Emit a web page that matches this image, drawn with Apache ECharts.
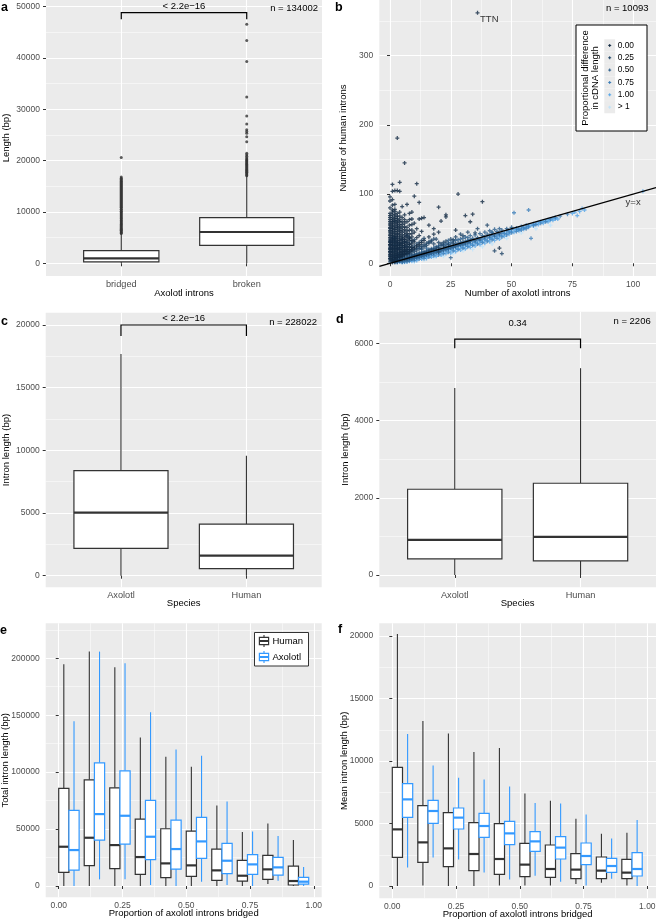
<!DOCTYPE html>
<html><head><meta charset="utf-8">
<script src="https://cdn.jsdelivr.net/npm/echarts@6/dist/echarts.min.js"></script>
<style>html,body{margin:0;padding:0;background:#fff}#c{width:656px;height:919px}</style>
</head><body><div id="c"></div>
<script>
// ================= DATA =================
// Panel a
const aCategories = ['bridged', 'broken'];
const aBoxes = [[0, 260, 970, 2470, 5780], [0, 3510, 6100, 8900, 17000]]; // low, q1, median, q3, high
const aBridgedOutliers = [5810, 5950, 6120, 6300, 6450, 6640, 6800, 7000, 7180, 7350, 7560, 7720, 7900, 8100, 8290, 8450, 8660, 8820, 9030, 9200, 9410, 9600, 9780, 9990, 10150, 10380, 10550, 10760, 10930, 11140, 11320, 11500, 11720, 11890, 12100, 12280, 12470, 12680, 12860, 13050, 13260, 13440, 13650, 13830, 14020, 14230, 14410, 14600, 14820, 15000, 15190, 15400, 15580, 15770, 15980, 16150, 16380, 16560, 16840, 20620];
const aBrokenOutliers = [17050, 17230, 17400, 17580, 17760, 17950, 18120, 18300, 18490, 18670, 18850, 19040, 19230, 19400, 19590, 19780, 19960, 20150, 20330, 20560, 20880, 21150, 21420, 23700, 24650, 25350, 25700, 26000, 27150, 28700, 32400, 39300, 43400, 46600];
const aBracket = [1, 2, 48830, 47530, 50000]; // from, to, y, tick end, label y
const aPLabel = '< 2.2e\u221216';
const aN = 'n = 134002';
const aYTicks = [0, 10000, 20000, 30000, 40000, 50000];
const aYMinor = [5000, 15000, 25000, 35000, 45000];

// Panel b  (x = axolotl introns, y = human introns), grouped by proportional difference
const bTTN = [36, 362];
const b000 = [[0,5],[0,10],[0,15],[0,20],[0,25],[0,30],[0,35],[0,40],[0,45],[0,50],[0,55],[0,60],[0,66],[0,72],[0,80],[0,90],[0,96],
 [1,3],[1,8],[1,13],[1,18],[1,23],[1,28],[1,33],[1,38],[1,43],[1,48],[1,53],[1,58],[1,63],[1,70],[1,77],[1,84],[1,92],[1,104],[1,114],
 [2,4],[2,9],[2,14],[2,19],[2,24],[2,29],[2,34],[2,39],[2,44],[2,49],[2,54],[2,60],[2,65],[2,71],[2,78],[2,85],[2,105],
 [3,6],[3,11],[3,16],[3,21],[3,26],[3,31],[3,36],[3,41],[3,46],[3,52],[3,57],[3,62],[3,68],[3,105],[3,181],
 [4,8],[4,13],[4,18],[4,23],[4,28],[4,33],[4,38],[4,44],[4,50],[4,56],[4,63],[4,74],[4,104],[4,117],
 [5,10],[5,15],[5,20],[5,26],[5,32],[5,38],[5,45],[5,52],[5,60],[5,82],
 [6,12],[6,17],[6,22],[6,28],[6,34],[6,41],[6,49],[6,58],[6,70],[6,145],
 [7,14],[7,20],[7,27],[7,35],[7,43],[7,52],[7,85],[8,16],[8,24],[8,33],[8,42],[8,55],[8,72],
 [9,19],[9,28],[9,38],[9,48],[9,64],[9,74],[10,22],[10,31],[10,45],[10,58],[10,97],
 [11,25],[11,37],[11,50],[11,115],[12,27],[12,40],[12,64],[12,88],[13,30],[13,46],[13,65],
 [14,33],[14,66],[16,38],[16,55],[18,42],[18,50],[20,45],[20,81],[21,61],[23,67],[23,70],[27,48],[28,100],[31,69],[33,60],[34,71],[38,89],[45,22],
 [0,7],[0,12],[0,17],[0,22],[0,27],[0,32],[0,37],[0,42],[0,47],[0,52],[0,57],[0,63],[0,69],
 [1,5],[1,10],[1,15],[1,20],[1,25],[1,30],[1,35],[1,40],[1,45],[1,50],[1,55],[1,60],[1,66],[1,74],
 [2,6],[2,11],[2,16],[2,21],[2,26],[2,31],[2,36],[2,41],[2,46],[2,51],[2,57],[2,62],[2,68],[2,75],
 [3,8],[3,13],[3,18],[3,23],[3,28],[3,33],[3,38],[3,43],[3,49],[3,54],[3,59],[3,65],[3,72],
 [4,10],[4,15],[4,20],[4,25],[4,30],[4,35],[4,41],[4,47],[4,53],[4,60],[4,68],
 [5,12],[5,17],[5,23],[5,29],[5,35],[5,41],[5,48],[5,56],[5,66],
 [6,14],[6,19],[6,25],[6,31],[6,37],[6,45],[6,53],[6,63],[7,17],[7,23],[7,31],[7,39],[7,47],[7,60],
 [8,20],[8,28],[8,37],[8,48],[8,63],[9,23],[9,33],[9,43],[9,56]];
const b025 = [[0,2],[0,7],[0,12],[0,17],[0,22],[0,27],[0,32],[1,1],[1,6],[1,11],[1,16],[1,21],[1,26],[1,31],[1,36],[2,2],[2,7],[2,12],[2,17],[2,22],[2,27],[2,32],[2,37],
 [3,3],[3,9],[3,14],[3,20],[3,25],[3,30],[4,4],[4,10],[4,15],[4,21],[4,27],[5,5],[5,11],[5,17],[5,23],[5,29],[5,35],[6,6],[6,13],[6,19],[6,25],[6,31],
 [7,7],[7,12],[7,18],[7,24],[7,30],[7,40],[8,8],[8,14],[8,20],[8,27],[8,36],[9,10],[9,16],[9,23],[9,31],[10,11],[10,17],[10,25],[10,34],
 [11,12],[11,19],[11,28],[12,13],[12,21],[12,30],[13,14],[13,22],[13,33],[14,15],[14,24],[14,36],[15,16],[15,26],[16,18],[16,29],[17,19],[17,31],
 [18,20],[18,28],[19,22],[19,35],[20,16],[20,23],[22,25],[22,30],[24,27],[26,29],[26,34],[30,40],[35,44],[43,18],[46,14],
 [1,4],[2,9],[3,11],[4,12],[5,13],[6,15],[7,15],[8,17],[9,19],[10,20],[11,22],[12,24],[13,25],[14,27],[15,29],[16,31],[17,33],[18,35],
 [20,30],[21,28],[23,32],[25,35],[27,38],[29,42],[32,45],[36,50],[40,55]];
const b050 = [[2,1],[2,5],[3,2],[3,8],[4,3],[4,6],[5,2],[5,8],[6,4],[6,9],[7,3],[7,9],[8,5],[8,10],[8,12],[9,6],[9,12],[10,7],[10,13],[11,8],[11,14],
 [12,9],[12,15],[13,10],[13,16],[13,20],[14,11],[14,17],[15,12],[15,18],[15,22],[16,13],[16,20],[17,14],[17,21],[18,15],[18,22],[19,16],[19,24],
 [20,17],[20,25],[21,18],[21,26],[22,19],[22,27],[23,20],[23,28],[24,21],[24,29],[24,33],[25,8],[25,22],[25,30],[26,23],[26,32],[27,24],[27,33],
 [28,26],[28,34],[29,27],[29,35],[30,28],[30,36],[31,29],[31,38],[32,30],[32,37],[33,32],[33,40],[35,33],[35,41],[37,35],[37,43],[39,38],[39,45],
 [41,40],[41,47],[43,41],[43,49],[45,43],[45,50],
 [1,3],[2,3],[3,5],[4,5],[5,6],[6,7],[7,6],[8,8],[9,9],[10,10],[11,10],[12,12],[13,12],[14,14],[15,14],[16,16],[17,16],[18,18],[19,19],[20,20],
 [21,21],[22,22],[23,24],[24,24],[25,26],[26,26],[27,28],[28,29],[29,30],[30,31],[31,32],[32,33],[33,34],[34,36],[36,37],[38,40],[40,42],[42,45],
 [44,46],[46,48],[48,50],[50,52]];
const b075 = [[6,2],[8,3],[8,7],[10,4],[10,9],[12,6],[12,11],[14,7],[14,12],[16,9],[16,14],[18,11],[18,16],[20,12],[20,18],[22,14],[22,20],[24,16],[24,22],
 [26,18],[26,24],[28,20],[28,26],[30,22],[30,28],[32,24],[32,30],[34,26],[34,32],[36,28],[36,34],[38,30],[38,36],[40,32],[40,38],[42,34],[42,40],[42,44],
 [44,36],[44,42],[46,38],[46,44],[48,41],[48,47],[50,44],[50,49],[51,73],[52,46],[52,51],[54,48],[54,53],[56,50],[56,55],[57,77],[58,36],[60,56],
 [3,1],[5,3],[7,5],[9,7],[11,9],[13,11],[15,13],[17,15],[19,17],[21,19],[23,21],[25,23],[27,25],[29,26],[31,27],[33,29],[35,31],[37,33],[39,35],
 [41,37],[43,39],[45,41],[47,43],[49,45],[53,49],[55,51],[57,53],[59,55],[62,58],[64,60],[66,64],[68,66],[70,68],[73,71]];
const b100 = [[5,1],[7,2],[9,3],[9,5],[11,4],[11,7],[13,6],[13,9],[15,7],[15,10],[17,9],[17,12],[19,10],[19,14],[21,12],[21,16],[23,14],[23,18],
 [25,15],[25,20],[27,17],[27,22],[29,19],[29,24],[31,21],[31,26],[33,23],[33,28],[35,25],[35,30],[37,27],[37,32],[39,29],[39,34],[41,31],[41,36],
 [43,33],[43,38],[45,35],[45,40],[47,39],[47,44],[49,42],[49,47],[51,45],[51,49],[53,47],[53,50],[55,49],[55,52],[57,52],[57,55],[59,54],[59,57],
 [61,56],[61,59],[63,58],[63,61],[65,60],[65,63],[67,62],[67,65],[69,64],[76,74],[77,69],[78,75],[79,79],[80,77],[104,104],
 [4,2],[6,3],[8,4],[10,6],[12,8],[14,9],[16,11],[18,13],[20,14],[22,16],[24,18],[26,19],[28,21],[30,23],[32,25],[34,27],[36,29],[38,31],[40,33],
 [42,36],[44,38],[46,40],[48,43],[50,46],[52,48],[54,50],[56,52],[58,55],[60,57],[62,60],[64,61],[66,62],[68,64],[75,72]];
const bGt1 = [[6,1],[10,2],[14,5],[18,8],[22,10],[26,14],[30,18],[34,20],[38,24],[42,28],[48,36],[54,44],[60,50],[66,55],[64,62]];
const bLevels = ['0.00', '0.25', '0.50', '0.75', '1.00', '> 1'];
const bYxLabelPos = [100, 88];
const bN = 'n = 10093';
const bXTicks = [0, 25, 50, 75, 100];
const bXMinor = [12.5, 37.5, 62.5, 87.5];
const bYTicks = [0, 100, 200, 300];
const bYMinor = [50, 150, 250, 350];

// Panel c
const cCategories = ['Axolotl', 'Human'];
const cBoxes = [[0, 2180, 5030, 8380, 17690], [0, 560, 1600, 4120, 9570]];
const cBracket = [1, 2, 20000, 19120, 20540];
const cPLabel = '< 2.2e\u221216';
const cN = 'n = 228022';
const cYTicks = [0, 5000, 10000, 15000, 20000];
const cYMinor = [2500, 7500, 12500, 17500];

// Panel d
const dCategories = ['Axolotl', 'Human'];
const dBoxes = [[0, 415, 907, 2220, 4840], [0, 363, 985, 2376, 5356]];
const dBracket = [1, 2, 6108, 5875, 6510];
const dPLabel = '0.34';
const dN = 'n = 2206';
const dYTicks = [0, 2000, 4000, 6000];
const dYMinor = [1000, 3000, 5000];

// Panels e, f
const efBins = [0.04, 0.14, 0.24, 0.34, 0.44, 0.54, 0.64, 0.74, 0.84, 0.94];
const efXTicks = [0, 0.25, 0.5, 0.75, 1];
const efXMinor = [0.125, 0.375, 0.625, 0.875];
const eHuman = [[0,11990,34500,85670,194740],[0,17840,42400,93270,205850],[0,15200,35960,86260,192100],[0,10230,25440,58770,130400],
 [0,7310,19880,50290,113450],[0,8480,18130,48250,104680],[0,4970,13740,32460,70760],[0,4390,9060,22510,47370],[1750,5850,14620,26900,54970],[0,880,4390,17540,40350]];
const eAxolotl = [[0,14040,31580,66370,144740],[5850,40350,63160,108190,205850],[5850,36840,61700,101170,195600],[880,23100,43270,75150,152600],
 [0,14910,32460,57890,119880],[3800,24270,39180,60230,114330],[880,10820,22220,37430,74270],[0,10230,19000,27490,47950],[4680,9650,16370,25150,43860],[0,1750,3800,7600,16670]];
const eYTicks = [0, 50000, 100000, 150000, 200000];
const eYMinor = [25000, 75000, 125000, 175000, 225000];
const fHuman = [[0,2290,4530,9490,20160],[50,1890,3490,6430,13200],[0,1550,3010,5870,12210],[0,1230,2560,5070,10720],[50,930,2160,4990,11040],
 [50,750,1710,3410,7410],[50,690,1360,3280,6830],[160,590,1310,2590,5390],[270,590,1230,2320,4190],[50,590,1070,2130,4270]];
const fAxolotl = [[1490,5490,6930,8190,12160],[2290,5010,6000,6850,9650],[2130,4560,5470,6240,8670],[1090,3890,4800,5810,8530],[530,3310,4210,5170,7970],
 [830,2770,3570,4350,6640],[350,2160,3070,3950,6610],[50,1710,2400,3440,5730],[590,1090,1600,2210,3810],[0,800,1360,2670,5280]];
const fYTicks = [0, 5000, 10000, 15000, 20000];
const fYMinor = [2500, 7500, 12500, 17500];
const efSeriesNames = ['Human', 'Axolotl'];

// ================= STYLE =================
const FONT = '"Liberation Sans", Arial, sans-serif';
const BG = '#EBEBEB';
const DARK = '#333333';
const BLUE = '#3399FF';
const bColors = ['#132B43', '#1E4466', '#2C5F8D', '#3D7FBA', '#56A6E8', '#BFE3FB'];
const PLUS = 'path://M1.7,0H3.3V1.7H5V3.3H3.3V5H1.7V3.3H0V1.7H1.7Z';

const grids = [
  {left: 46, top: 0, width: 276, height: 276},
  {left: 379.3, top: 0, width: 276.7, height: 276},
  {left: 45.7, top: 312.7, width: 276, height: 274.6},
  {left: 379.3, top: 311.7, width: 276.7, height: 275.6},
  {left: 45.7, top: 623.3, width: 276, height: 274},
  {left: 379.3, top: 623.3, width: 276.7, height: 275}
].map(g => Object.assign({show: true, backgroundColor: BG, borderWidth: 0, containLabel: false, outerBoundsMode: 'none'}, g));

const xAxes = [], yAxes = [];
function major(list, dim, gi, min, max, ticks, fmt, name, nameGap, labelSize) {
  list.push({
    type: 'value', gridIndex: gi, min, max, position: dim === 'x' ? 'bottom' : 'left',
    axisLine: {show: false},
    axisTick: {show: true, customValues: ticks, length: 3, lineStyle: {color: DARK, width: 1}},
    axisLabel: {show: true, customValues: ticks, formatter: fmt, color: '#4D4D4D', fontSize: labelSize, fontFamily: FONT, margin: dim === 'x' ? 4 : 6, hideOverlap: false},
    splitLine: {show: true, lineStyle: {color: '#FFFFFF', width: 1.1}},
    name, nameLocation: 'middle', nameGap, nameMoveOverlap: false,
    nameTextStyle: {color: '#000', fontSize: 9.5, fontFamily: FONT}
  });
  return list.length - 1;
}
function minor(list, dim, gi, min, max, ticks) {
  list.push({
    type: 'value', gridIndex: gi, min, max, position: dim === 'x' ? 'top' : 'right',
    axisLine: {show: false}, axisTick: {show: false, customValues: ticks},
    axisLabel: {show: false, customValues: ticks},
    splitLine: {show: true, lineStyle: {color: '#FFFFFF', width: 0.5}}
  });
  return list.length - 1;
}
const num = v => String(v);

// panel a axes
const axA = major(xAxes, 'x', 0, 0.4, 2.6, [1, 2], v => aCategories[Math.round(v) - 1], 'Axolotl introns', 12, 9.2);
const ayA = major(yAxes, 'y', 0, -2474, 51305, aYTicks, num, 'Length (bp)', 35, 8.5);
minor(yAxes, 'y', 0, -2474, 51305, aYMinor);
// panel b
const axB = major(xAxes, 'x', 1, -4.4, 109.4, bXTicks, num, 'Number of axolotl introns', 12, 8.5);
minor(xAxes, 'x', 1, -4.4, 109.4, bXMinor);
const ayB = major(yAxes, 'y', 1, -18.4, 380.5, bYTicks, num, 'Number of human introns', 31, 8.5);
minor(yAxes, 'y', 1, -18.4, 380.5, bYMinor);
// panel c
const axC = major(xAxes, 'x', 2, 0.4, 2.6, [1, 2], v => cCategories[Math.round(v) - 1], 'Species', 11, 9.2);
const ayC = major(yAxes, 'y', 2, -925, 20981, cYTicks, num, 'Intron length (bp)', 34, 8.5);
minor(yAxes, 'y', 2, -925, 20981, cYMinor);
// panel d
const axD = major(xAxes, 'x', 3, 0.4, 2.6, [1, 2], v => dCategories[Math.round(v) - 1], 'Species', 11, 9.2);
const ayD = major(yAxes, 'y', 3, -319, 6819, dYTicks, num, 'Intron length (bp)', 29, 8.5);
minor(yAxes, 'y', 3, -319, 6819, dYMinor);
// panel e
const axE = major(xAxes, 'x', 4, -0.051, 1.031, efXTicks, v => v.toFixed(2), 'Proportion of axolotl introns bridged', 11.5, 8.5);
minor(xAxes, 'x', 4, -0.051, 1.031, efXMinor);
const ayE = major(yAxes, 'y', 4, -9900, 230700, eYTicks, num, 'Total intron length (bp)', 35, 8.5);
minor(yAxes, 'y', 4, -9900, 230700, eYMinor);
// panel f
const axF = major(xAxes, 'x', 5, -0.051, 1.034, efXTicks, v => v.toFixed(2), 'Proportion of axolotl introns bridged', 11.5, 8.5);
minor(xAxes, 'x', 5, -0.051, 1.034, efXMinor);
const ayF = major(yAxes, 'y', 5, -984, 21016, fYTicks, num, 'Mean intron length (bp)', 30, 8.5);
minor(yAxes, 'y', 5, -984, 21016, fYMinor);

// ---------- series builders ----------
function boxSeries(xi, yi, boxes, positions, widths, offset, color) {
  return {
    type: 'custom', xAxisIndex: xi, yAxisIndex: yi, z: 3, silent: true,
    data: boxes.map((b, i) => [positions[i]].concat(b)),
    encode: {x: 0, y: [1, 2, 3, 4, 5]},
    renderItem: (params, api) => {
      const x = api.value(0) + offset;
      const w = api.size([widths[params.dataIndex], 0])[0];
      const lo = api.coord([x, api.value(1)]);
      const q1 = api.coord([x, api.value(2)]);
      const md = api.coord([x, api.value(3)]);
      const q3 = api.coord([x, api.value(4)]);
      const hi = api.coord([x, api.value(5)]);
      const cx = lo[0];
      return {type: 'group', children: [
        {type: 'line', shape: {x1: cx, y1: lo[1], x2: cx, y2: q1[1]}, style: {stroke: color, lineWidth: 1.1}},
        {type: 'line', shape: {x1: cx, y1: q3[1], x2: cx, y2: hi[1]}, style: {stroke: color, lineWidth: 1.1}},
        {type: 'rect', shape: {x: cx - w / 2, y: q3[1], width: w, height: q1[1] - q3[1]}, style: {fill: '#FFFFFF', stroke: color, lineWidth: 1.2}},
        {type: 'line', shape: {x1: cx - w / 2, y1: md[1], x2: cx + w / 2, y2: md[1]}, style: {stroke: color, lineWidth: 2.2}}
      ]};
    }
  };
}
function bracketSeries(xi, yi, br, label) {
  return {
    type: 'custom', xAxisIndex: xi, yAxisIndex: yi, z: 4, silent: true, data: [br],
    encode: {x: [0, 1], y: [2, 3, 4]},
    renderItem: (params, api) => {
      const x1 = api.value(0), x2 = api.value(1), y = api.value(2), yt = api.value(3);
      const p = [api.coord([x1, yt]), api.coord([x1, y]), api.coord([x2, y]), api.coord([x2, yt])];
      const t = api.coord([(x1 + x2) / 2, api.value(4)]);
      return {type: 'group', children: [
        {type: 'polyline', shape: {points: p}, style: {stroke: '#000', fill: null, lineWidth: 1.2}},
        {type: 'text', x: t[0], y: t[1], style: {text: label, fill: '#000', fontSize: 9.5, fontFamily: FONT,
          align: 'center', verticalAlign: 'middle', textAlign: 'center', textVerticalAlign: 'middle'}}
      ]};
    }
  };
}
function dots(xi, yi, pos, vals) {
  return {type: 'scatter', xAxisIndex: xi, yAxisIndex: yi, z: 2, silent: true, symbol: 'circle', symbolSize: 3,
    itemStyle: {color: DARK}, data: vals.map(v => [pos, v])};
}
function plusSeries(data, color) {
  return {type: 'scatter', xAxisIndex: axB, yAxisIndex: ayB, z: 2, silent: true, symbol: PLUS, symbolSize: 4,
    large: false, itemStyle: {color}, data};
}

const series = [
  boxSeries(axA, ayA, aBoxes, [1, 2], [0.6, 0.75], 0, DARK),
  dots(axA, ayA, 1, aBridgedOutliers),
  dots(axA, ayA, 2, aBrokenOutliers),
  bracketSeries(axA, ayA, aBracket, aPLabel),

  plusSeries(bGt1, bColors[5]),
  plusSeries(b100, bColors[4]),
  plusSeries(b075, bColors[3]),
  plusSeries(b050, bColors[2]),
  plusSeries(b025, bColors[1]),
  plusSeries(b000, bColors[0]),
  {type: 'scatter', xAxisIndex: axB, yAxisIndex: ayB, z: 3, silent: true, symbol: PLUS, symbolSize: 4,
   itemStyle: {color: bColors[0]}, data: [bTTN],
   label: {show: true, formatter: 'TTN', position: 'right', distance: 0.5, offset: [0, 7], color: '#000', fontSize: 9.5, fontFamily: FONT}},
  {type: 'line', xAxisIndex: axB, yAxisIndex: ayB, z: 4, silent: true, symbol: 'none',
   lineStyle: {color: '#000', width: 1.4}, data: [[-4.4, -4.4], [109.4, 109.4]]},
  {type: 'scatter', xAxisIndex: axB, yAxisIndex: ayB, z: 4, silent: true, symbolSize: 0, data: [bYxLabelPos],
   label: {show: true, formatter: 'y=x', position: 'inside', color: '#000', fontSize: 9.5, fontFamily: FONT}},

  boxSeries(axC, ayC, cBoxes, [1, 2], [0.75, 0.75], 0, DARK),
  bracketSeries(axC, ayC, cBracket, cPLabel),
  boxSeries(axD, ayD, dBoxes, [1, 2], [0.75, 0.75], 0, DARK),
  bracketSeries(axD, ayD, dBracket, dPLabel),

  boxSeries(axE, ayE, eHuman, efBins, efBins.map(() => 0.04), -0.02, DARK),
  boxSeries(axE, ayE, eAxolotl, efBins, efBins.map(() => 0.04), 0.02, BLUE),
  boxSeries(axF, ayF, fHuman, efBins, efBins.map(() => 0.04), -0.02, DARK),
  boxSeries(axF, ayF, fAxolotl, efBins, efBins.map(() => 0.04), 0.02, BLUE)
];

// ---------- graphics: panel letters, n labels, legends ----------
function txt(x, y, s, o) {
  o = o || {};
  return {type: 'text', x, y, silent: true, rotation: o.rot || 0, z: 100,
    style: {text: s, fill: o.color || '#000', fontSize: o.size || 9.5, fontFamily: FONT, fontWeight: o.weight || 'normal',
      align: o.align || 'left', textAlign: o.align || 'left', verticalAlign: 'middle', textVerticalAlign: 'middle'}};
}
function rect(x, y, w, h, style, z) {
  return {type: 'rect', z: z || 100, silent: true, shape: {x, y, width: w, height: h}, style};
}
const G = [];
[['a', 1, 8], ['b', 335, 8], ['c', 1, 322], ['d', 336, 320], ['e', 0, 631], ['f', 338, 630]].forEach(p =>
  G.push(txt(p[1], p[2], p[0], {size: 12.5, weight: 'bold'})));
G.push(txt(318, 8.3, aN, {align: 'right'}));
G.push(txt(648.5, 8.3, bN, {align: 'right'}));
G.push(txt(317, 322.7, cN, {align: 'right'}));
G.push(txt(650.7, 321.7, dN, {align: 'right'}));
// legend b
G.push(rect(576, 25, 71, 106, {fill: '#FFFFFF', stroke: '#000', lineWidth: 1}, 99));
G.push(txt(585.3, 78, 'Proportional difference', {rot: Math.PI / 2, align: 'center'}));
G.push(txt(595.8, 78, 'in cDNA length', {rot: Math.PI / 2, align: 'center'}));
bLevels.forEach((lv, i) => {
  const cy = 45.4 + i * 12.35;
  G.push(rect(604.3, cy - 6.1, 10.8, 12.2, {fill: '#EBEBEB'}, 100));
  G.push(rect(608.2, cy - 0.5, 3, 1, {fill: bColors[i]}, 101));
  G.push(rect(609.2, cy - 1.5, 1, 3, {fill: bColors[i]}, 101));
  G.push(txt(617.7, cy, lv, {size: 8.4}));
});
// legend e
G.push(rect(254.5, 632.5, 54, 33.5, {fill: '#FFFFFF', stroke: '#333', lineWidth: 1}, 99));
[[DARK, 641], [BLUE, 657]].forEach((k, i) => {
  const cx = 264, cy = k[1];
  G.push({type: 'line', z: 100, silent: true, shape: {x1: cx, y1: cy - 6, x2: cx, y2: cy + 6}, style: {stroke: k[0], lineWidth: 1.1}});
  G.push(rect(cx - 4.6, cy - 3.6, 9.2, 7.2, {fill: '#FFFFFF', stroke: k[0], lineWidth: 1.2}, 101));
  G.push({type: 'line', z: 102, silent: true, shape: {x1: cx - 4.6, y1: cy, x2: cx + 4.6, y2: cy}, style: {stroke: k[0], lineWidth: 2}});
  G.push(txt(272.5, cy, efSeriesNames[i], {size: 9.5}));
});

const chart = echarts.init(document.getElementById('c'), null, {renderer: 'canvas'});
chart.setOption({
  animation: false,
  backgroundColor: '#FFFFFF',
  grid: grids,
  xAxis: xAxes,
  yAxis: yAxes,
  series,
  graphic: {elements: G}
});
</script>
</body></html>
